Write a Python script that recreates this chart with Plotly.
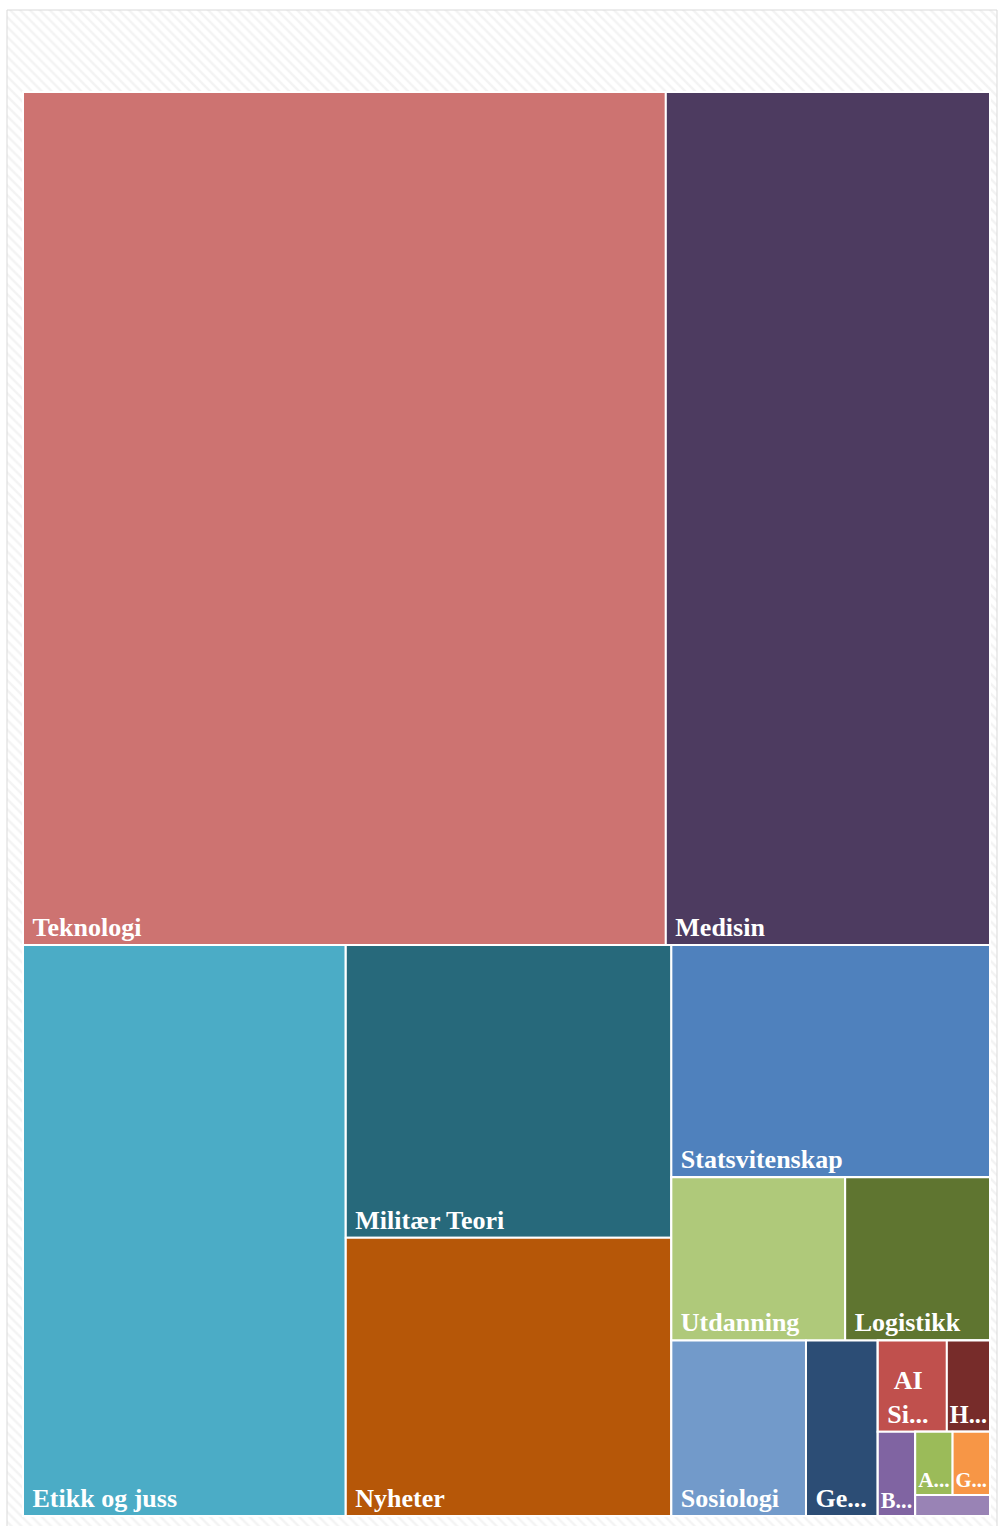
import plotly.graph_objects as go

# ---- data (leaf categories) ----
categories = ["Teknologi", "Medisin", "Etikk og juss", "Militær Teori", "Nyheter",
              "Statsvitenskap", "Utdanning", "Logistikk", "Sosiologi", "Geografi",
              "AI Sikkerhet", "Historie", "Biologi", "Antropologi", "Geopolitikk",
              "Psykologi"]
display_labels = ["\u00a0Teknologi", "\u00a0Medisin", "\u00a0Etikk og juss",
                  "\u00a0Militær Teori", "\u00a0Nyheter", "\u00a0Statsvitenskap",
                  "\u00a0Utdanning", "\u00a0Logistikk", "\u00a0Sosiologi", "\u00a0Ge...",
                  "\u00a0\u00a0AI<br>\u00a0Si...", "H...", "B...", "A...", "G...", ""]
values = [696, 351, 234, 121, 115, 94, 36, 30, 30, 16, 8, 5, 4, 3, 3, 2]
colors = ["#CD7371", "#4D3B60", "#4BACC6", "#27697B", "#B65708",
          "#4F81BD", "#AFC97A", "#5F7530", "#729ACA", "#2C4D75",
          "#C0504D", "#772C2A", "#8064A2", "#9BBB59", "#F79646",
          "#9983B5"]

# layout grouping used to reproduce the reference tiling (invisible helper nodes)
group_ids = ["g_top", "g_bottom", "g_milnyh", "g_right", "g_ul", "g_small",
             "g_tiny", "g_ah", "g_bagp", "g_agp", "g_ag"]
group_parents = ["", "", "g_bottom", "g_bottom", "g_right", "g_right",
                 "g_small", "g_tiny", "g_tiny", "g_bagp", "g_agp"]
leaf_parents = ["g_top", "g_top", "g_bottom", "g_milnyh", "g_milnyh",
                "g_right", "g_ul", "g_ul", "g_small", "g_small",
                "g_ah", "g_ah", "g_bagp", "g_ag", "g_ag", "g_agp"]
# order of children inside each helper node
children_order = {
    "": ["g_top", "g_bottom"],
    "g_top": ["Teknologi", "Medisin"],
    "g_bottom": ["Etikk og juss", "g_milnyh", "g_right"],
    "g_milnyh": ["Militær Teori", "Nyheter"],
    "g_right": ["Statsvitenskap", "g_ul", "g_small"],
    "g_ul": ["Utdanning", "Logistikk"],
    "g_small": ["Sosiologi", "Geografi", "g_tiny"],
    "g_tiny": ["g_ah", "g_bagp"],
    "g_ah": ["AI Sikkerhet", "Historie"],
    "g_bagp": ["Biologi", "g_agp"],
    "g_agp": ["g_ag", "Psykologi"],
    "g_ag": ["Antropologi", "Geopolitikk"],
}

# ---- build rows in depth-first order ----
leaf_info = {c: (p, v, col, t) for c, p, v, col, t in
             zip(categories, leaf_parents, values, colors, display_labels)}
group_parent = dict(zip(group_ids, group_parents))

ids, labels, parents, vals, cols, texts = [], [], [], [], [], []


def add(node):
    if node in leaf_info:
        p, v, col, t = leaf_info[node]
        ids.append(node); labels.append(node); parents.append(p)
        vals.append(v); cols.append(col); texts.append(t)
    else:
        ids.append(node); labels.append(""); parents.append(group_parent[node])
        vals.append(0); cols.append("white"); texts.append("")
        for ch in children_order[node]:
            add(ch)


for top in children_order[""]:
    add(top)

W, H = 998, 1526

fig = go.Figure()

# hatched chart-area background with thin frame
fig.add_trace(go.Scatter(
    x=[7 / W, 997 / W, 997 / W, 7 / W, 7 / W],
    y=[1 - 10 / H, 1 - 10 / H, -0.01, -0.01, 1 - 10 / H],
    mode="lines", fill="toself",
    line=dict(color="#d9d9d9", width=1),
    fillcolor="white",
    fillpattern=dict(shape="\\", fgcolor="#e8e8e8", bgcolor="white",
                     size=7, solidity=0.35),
    hoverinfo="skip", showlegend=False,
))

fig.add_trace(go.Treemap(
    ids=ids,
    labels=labels,
    parents=parents,
    values=vals,
    branchvalues="remainder",
    text=texts,
    texttemplate="%{text}",
    textposition="bottom left",
    textfont=dict(family="Liberation Serif", size=26, color="white", weight="bold"),
    marker=dict(colors=cols, line=dict(color="white", width=2),
                pad=dict(t=0, l=0, r=0, b=0), depthfade=False),
    tiling=dict(packing="dice-slice", pad=0),
    pathbar=dict(visible=False),
    sort=False,
    domain=dict(x=[23 / W, 990 / W], y=[1 - 1516 / H, 1 - 92 / H]),
    hoverinfo="label+value",
))

fig.update_layout(
    width=W, height=H,
    margin=dict(l=0, r=0, t=0, b=0),
    paper_bgcolor="white",
    plot_bgcolor="white",
    xaxis=dict(range=[0, 1], domain=[0, 1], visible=False, fixedrange=True),
    yaxis=dict(range=[0, 1], domain=[0, 1], visible=False, fixedrange=True),
    showlegend=False,
)

fig.write_html("out.html", config={"displayModeBar": False},
               post_script="document.body.style.margin='0px';")
